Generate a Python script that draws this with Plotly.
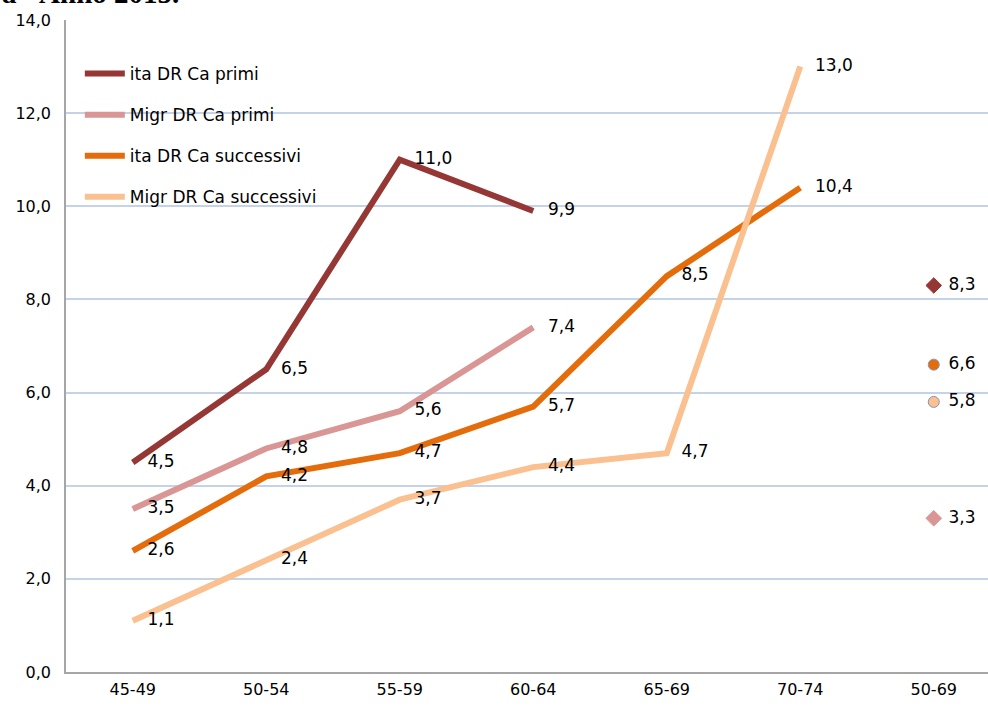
import plotly.graph_objects as go

categories = ["45-49", "50-54", "55-59", "60-64", "65-69", "70-74"]
summary_category = "50-69"

ita_primi = [4.5, 6.5, 11.0, 9.9, None, None]
migr_primi = [3.5, 4.8, 5.6, 7.4, None, None]
ita_successivi = [2.6, 4.2, 4.7, 5.7, 8.5, 10.4]
migr_successivi = [1.1, 2.4, 3.7, 4.4, 4.7, 13.0]

summary_values = {
    "ita DR Ca primi": 8.3,
    "Migr DR Ca primi": 3.3,
    "ita DR Ca successivi": 6.6,
    "Migr DR Ca successivi": 5.8,
}

series = [
    ("ita DR Ca primi", ita_primi, "#953735", "diamond"),
    ("Migr DR Ca primi", migr_primi, "#d99694", "diamond"),
    ("ita DR Ca successivi", ita_successivi, "#e46c0a", "circle"),
    ("Migr DR Ca successivi", migr_successivi, "#fac090", "circle"),
]

all_cats = categories + [summary_category]


def fmt(v):
    return "" if v is None else f"{v:.1f}".replace(".", ",")


LABEL_FONT = dict(family="DejaVu Sans", size=17, color="#000000")

fig = go.Figure()
for i, (name, vals, color, sym) in enumerate(series):
    fig.add_trace(go.Scatter(
        x=categories, y=vals, name=name, mode="lines",
        line=dict(color=color, width=6), connectgaps=False,
        legendgroup=f"g{i}", cliponaxis=False,
    ))
    fig.add_trace(go.Scatter(
        x=categories, y=vals, mode="markers+text", showlegend=False,
        marker=dict(size=22, opacity=0, color=color),
        text=[fmt(v) for v in vals], textposition="middle right",
        textfont=LABEL_FONT, legendgroup=f"g{i}", cliponaxis=False,
        hoverinfo="skip",
    ))
for i, (name, vals, color, sym) in enumerate(series):
    v = summary_values[name]
    fig.add_trace(go.Scatter(
        x=[summary_category], y=[v], mode="markers", showlegend=False,
        marker=dict(symbol=sym, size=11 if sym == "circle" else 12, color=color,
                    line=dict(color="#8a93b0" if sym == "circle" else color, width=1)),
        legendgroup=f"g{i}", cliponaxis=False,
    ))
    fig.add_trace(go.Scatter(
        x=[summary_category], y=[v], mode="markers+text", showlegend=False,
        marker=dict(size=22, opacity=0, color=color),
        text=[fmt(v)], textposition="middle right", textfont=LABEL_FONT,
        legendgroup=f"g{i}", cliponaxis=False, hoverinfo="skip",
    ))

W, H = 988, 706
ml, mt, mb = 66, 20, 34
pw = W - ml
ph = H - mt - mb

fig.add_annotation(
    text="<b>a - Anno 2015.</b>", xref="paper", yref="paper",
    x=-ml / pw, y=1 + (mt + 7) / ph, xanchor="left", yanchor="middle",
    showarrow=False, font=dict(family="Liberation Serif", size=29, color="#000000"),
)

fig.update_layout(
    width=W, height=H,
    margin=dict(l=ml, r=0, t=mt, b=mb, autoexpand=False),
    plot_bgcolor="white", paper_bgcolor="white",
    showlegend=True,
    legend=dict(
        x=0.015, y=1 - 36 / ph, xanchor="left", yanchor="top",
        bgcolor="rgba(0,0,0,0)",
        font=dict(family="DejaVu Sans", size=17, color="#000000"),
        tracegroupgap=16, itemwidth=40,
    ),
    xaxis=dict(
        type="category", categoryorder="array", categoryarray=all_cats,
        range=[-0.5, -0.5 + pw / 133.5], automargin=False,
        showgrid=False, showline=True, linecolor="#a6a6a6", linewidth=1.5,
        ticks="", tickfont=dict(family="DejaVu Sans", size=16, color="#000000"),
        ticklabelstandoff=2,
    ),
    yaxis=dict(
        range=[0, 14], dtick=2, tickformat=".1f", automargin=False,
        showgrid=True, gridcolor="#c5d3ea", gridwidth=1.5,
        showline=True, linecolor="#a6a6a6", linewidth=1.5,
        ticks="", tickfont=dict(family="DejaVu Sans", size=16, color="#000000"),
        ticklabelstandoff=10, zeroline=False,
    ),
    separators=",.",
)

fig.write_html("out.html", config={"displayModeBar": False},
               post_script="document.body.style.margin='0';")
